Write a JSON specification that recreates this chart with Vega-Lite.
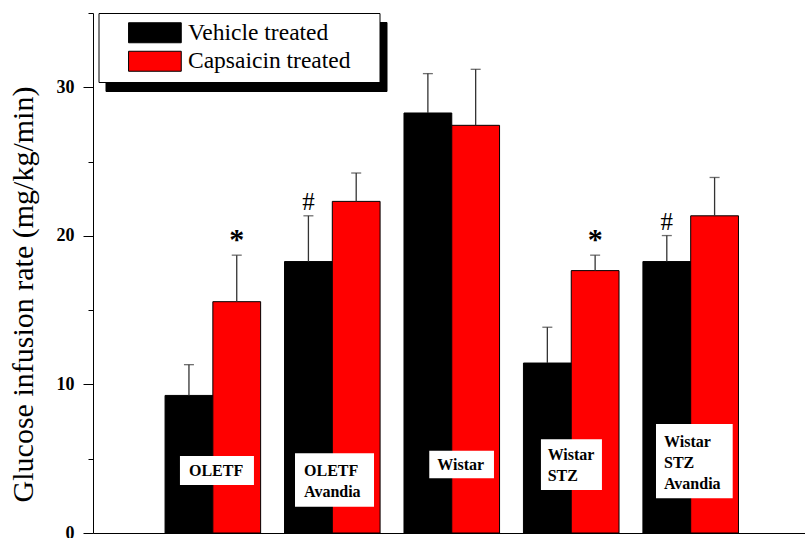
{
  "$schema": "https://vega.github.io/schema/vega-lite/v6.json",
  "width": 712,
  "height": 520,
  "autosize": {"type": "none"},
  "padding": {"left": 93, "top": 13, "right": 0, "bottom": 5},
  "background": "white",
  "config": {"view": {"stroke": null}, "axis": {"grid": false}},
  "datasets": {
    "bars": [
      {"group": "OLETF", "treatment": "Vehicle treated", "value": 9.26, "upper": 11.33, "sig": ""},
      {"group": "OLETF", "treatment": "Capsaicin treated", "value": 15.57, "upper": 18.70, "sig": "*"},
      {"group": "OLETF Avandia", "treatment": "Vehicle treated", "value": 18.27, "upper": 21.35, "sig": "#"},
      {"group": "OLETF Avandia", "treatment": "Capsaicin treated", "value": 22.32, "upper": 24.23, "sig": ""},
      {"group": "Wistar", "treatment": "Vehicle treated", "value": 28.27, "upper": 30.92, "sig": ""},
      {"group": "Wistar", "treatment": "Capsaicin treated", "value": 27.44, "upper": 31.21, "sig": ""},
      {"group": "Wistar STZ", "treatment": "Vehicle treated", "value": 11.44, "upper": 13.85, "sig": ""},
      {"group": "Wistar STZ", "treatment": "Capsaicin treated", "value": 17.66, "upper": 18.70, "sig": "*"},
      {"group": "Wistar STZ Avandia", "treatment": "Vehicle treated", "value": 18.27, "upper": 20.02, "sig": "#"},
      {"group": "Wistar STZ Avandia", "treatment": "Capsaicin treated", "value": 21.35, "upper": 23.93, "sig": ""}
    ],
    "labels": [
      {"group": "OLETF", "label": ["OLETF"]},
      {"group": "OLETF Avandia", "label": ["OLETF", "Avandia"]},
      {"group": "Wistar", "label": ["Wistar"]},
      {"group": "Wistar STZ", "label": ["Wistar", "STZ"]},
      {"group": "Wistar STZ Avandia", "label": ["Wistar", "STZ", "Avandia"]}
    ]
  },
  "encoding": {
    "x": {
      "field": "group",
      "type": "nominal",
      "scale": {
        "domain": ["OLETF", "OLETF Avandia", "Wistar", "Wistar STZ", "Wistar STZ Avandia"],
        "paddingInner": 0.2,
        "paddingOuter": 0.58,
        "align": 0.52
      },
      "axis": {"labels": false, "ticks": false, "title": null, "domainColor": "black", "domainWidth": 1}
    }
  },
  "layer": [
    {
      "data": {"name": "bars"},
      "transform": [{"calculate": "datum.treatment", "as": "shade"}],
      "mark": {"type": "bar", "strokeWidth": 1},
      "encoding": {
        "xOffset": {"field": "treatment", "type": "nominal", "scale": {"domain": ["Vehicle treated", "Capsaicin treated"], "paddingInner": 0, "paddingOuter": 0}},
        "y": {
          "field": "value",
          "type": "quantitative",
          "scale": {"domain": [0, 35], "nice": false},
          "axis": {
            "orient": "left",
            "values": [0, 10, 20, 30],
            "tickSize": 10,
            "labelPadding": 9,
            "labelFont": "Liberation Serif",
            "labelFontWeight": "bold",
            "labelFontSize": 18,
            "labelColor": "black",
            "tickColor": "black",
            "domainColor": "black",
            "title": "Glucose infusion rate (mg/kg/min)",
            "titleFont": "Liberation Serif",
            "titleFontSize": 30,
            "titleFontWeight": "normal",
            "titleColor": "black",
            "titleX": -61,
            "titleY": 281,
            "titleAlign": "center",
            "titleBaseline": "alphabetic",
            "grid": false
          }
        },
        "fill": {
          "field": "treatment",
          "type": "nominal",
          "scale": {"domain": ["Vehicle treated", "Capsaicin treated"], "range": ["#000000", "#ff0000"]},
          "legend": {
            "orient": "none",
            "legendX": 5.5,
            "legendY": 0,
            "title": null,
            "fillColor": "white",
            "strokeColor": "black",
            "padding": 8,
            "symbolType": "M-1.15,0M25.1,0M1.03,-1H6.3V1H1.03Z",
            "symbolSize": 400,
            "symbolStrokeColor": "black",
            "symbolStrokeWidth": 1,
            "symbolOffset": 0,
            "labelFont": "Liberation Serif",
            "labelFontSize": 23.5,
            "labelColor": "black",
            "labelOffset": 58,
            "labelLimit": 400,
            "rowPadding": 3.5,
            "zindex": 2
          }
        },
        "stroke": {
          "field": "shade",
          "type": "nominal",
          "scale": {"range": ["#000000", "#000000"]},
          "legend": {
            "orient": "none",
            "legendX": 12.5,
            "legendY": 9,
            "title": null,
            "fillColor": "black",
            "strokeColor": "black",
            "padding": 8,
            "symbolType": "M-1.15,0M25.1,0M1.03,-1H6.3V1H1.03Z",
            "symbolSize": 400,
            "symbolStrokeColor": "black",
            "symbolFillColor": "black",
            "symbolStrokeWidth": 1,
            "symbolOffset": 0,
            "labelFont": "Liberation Serif",
            "labelFontSize": 23.5,
            "labelColor": "black",
            "labelOffset": 58,
            "labelLimit": 400,
            "rowPadding": 3.5,
            "zindex": 1
          }
        }
      }
    },
    {
      "data": {"name": "bars"},
      "mark": {"type": "rule", "color": "#333333", "strokeWidth": 1.3},
      "encoding": {
        "xOffset": {"field": "treatment", "type": "nominal"},
        "y": {
          "field": "value",
          "type": "quantitative",
          "axis": {"orient": "left", "values": [5, 15, 25, 35], "tickSize": 5, "labels": false, "domain": false, "title": null, "tickColor": "black", "grid": false}
        },
        "y2": {"field": "upper"}
      }
    },
    {
      "data": {"name": "bars"},
      "mark": {"type": "tick", "color": "#333333", "size": 10, "thickness": 1.3},
      "encoding": {
        "xOffset": {"field": "treatment", "type": "nominal"},
        "y": {"field": "upper", "type": "quantitative", "axis": null}
      }
    },
    {
      "data": {"name": "labels"},
      "mark": {"type": "point", "filled": true, "fill": "white", "opacity": 1, "strokeWidth": 0, "size": 4},
      "encoding": {
        "y": {"datum": 4.5, "axis": null},
        "shape": {
          "field": "group",
          "type": "nominal",
          "scale": {
            "domain": ["OLETF", "OLETF Avandia", "Wistar", "Wistar STZ", "Wistar STZ Avandia"],
            "range": [
              "M-32.9,-10.1H41.1V18.9H-32.9Z",
              "M-37.3,-12.8H41.7V40.6H-37.3Z",
              "M-22.5,-15.4H42.2V12.2H-22.5Z",
              "M-30.3,-26.8H30.7V23.9H-30.3Z",
              "M-34.7,-42.1H42V32.2H-34.7Z"
            ]
          },
          "legend": null
        }
      }
    },
    {
      "data": {"name": "labels"},
      "transform": [{"filter": "datum.group === 'OLETF'"}],
      "mark": {"type": "text", "align": "left", "baseline": "top", "dx": -23.9, "dy": -3.1, "font": "Liberation Serif", "fontWeight": "bold", "fontSize": 16, "lineHeight": 21, "fill": "black"},
      "encoding": {"y": {"datum": 4.5, "axis": null}, "text": {"field": "label"}}
    },
    {
      "data": {"name": "labels"},
      "transform": [{"filter": "datum.group === 'OLETF Avandia'"}],
      "mark": {"type": "text", "align": "left", "baseline": "top", "dx": -28.3, "dy": -3.1, "font": "Liberation Serif", "fontWeight": "bold", "fontSize": 16, "lineHeight": 21, "fill": "black"},
      "encoding": {"y": {"datum": 4.5, "axis": null}, "text": {"field": "label"}}
    },
    {
      "data": {"name": "labels"},
      "transform": [{"filter": "datum.group === 'Wistar'"}],
      "mark": {"type": "text", "align": "left", "baseline": "top", "dx": -14.5, "dy": -9.1, "font": "Liberation Serif", "fontWeight": "bold", "fontSize": 16, "lineHeight": 21, "fill": "black"},
      "encoding": {"y": {"datum": 4.5, "axis": null}, "text": {"field": "label"}}
    },
    {
      "data": {"name": "labels"},
      "transform": [{"filter": "datum.group === 'Wistar STZ'"}],
      "mark": {"type": "text", "align": "left", "baseline": "top", "dx": -23.6, "dy": -19.1, "font": "Liberation Serif", "fontWeight": "bold", "fontSize": 16, "lineHeight": 21, "fill": "black"},
      "encoding": {"y": {"datum": 4.5, "axis": null}, "text": {"field": "label"}}
    },
    {
      "data": {"name": "labels"},
      "transform": [{"filter": "datum.group === 'Wistar STZ Avandia'"}],
      "mark": {"type": "text", "align": "left", "baseline": "top", "dx": -26.7, "dy": -32.4, "font": "Liberation Serif", "fontWeight": "bold", "fontSize": 16, "lineHeight": 21.3, "fill": "black"},
      "encoding": {"y": {"datum": 4.5, "axis": null}, "text": {"field": "label"}}
    },
    {
      "data": {"name": "bars"},
      "transform": [{"filter": "datum.sig === '*'"}],
      "mark": {"type": "text", "align": "center", "baseline": "alphabetic", "dy": -6, "font": "Liberation Serif", "fontWeight": "bold", "fontSize": 30, "fill": "black"},
      "encoding": {
        "xOffset": {"field": "treatment", "type": "nominal"},
        "y": {"field": "upper", "type": "quantitative", "axis": null},
        "text": {"field": "sig"}
      }
    },
    {
      "data": {"name": "bars"},
      "transform": [{"filter": "datum.sig === '#'"}],
      "mark": {"type": "text", "align": "center", "baseline": "alphabetic", "dy": -6, "font": "Liberation Serif", "fontWeight": "normal", "fontSize": 25, "fill": "black"},
      "encoding": {
        "xOffset": {"field": "treatment", "type": "nominal"},
        "y": {"field": "upper", "type": "quantitative", "axis": null},
        "text": {"field": "sig"}
      }
    }
  ],
  "resolve": {"axis": {"y": "independent"}}
}
